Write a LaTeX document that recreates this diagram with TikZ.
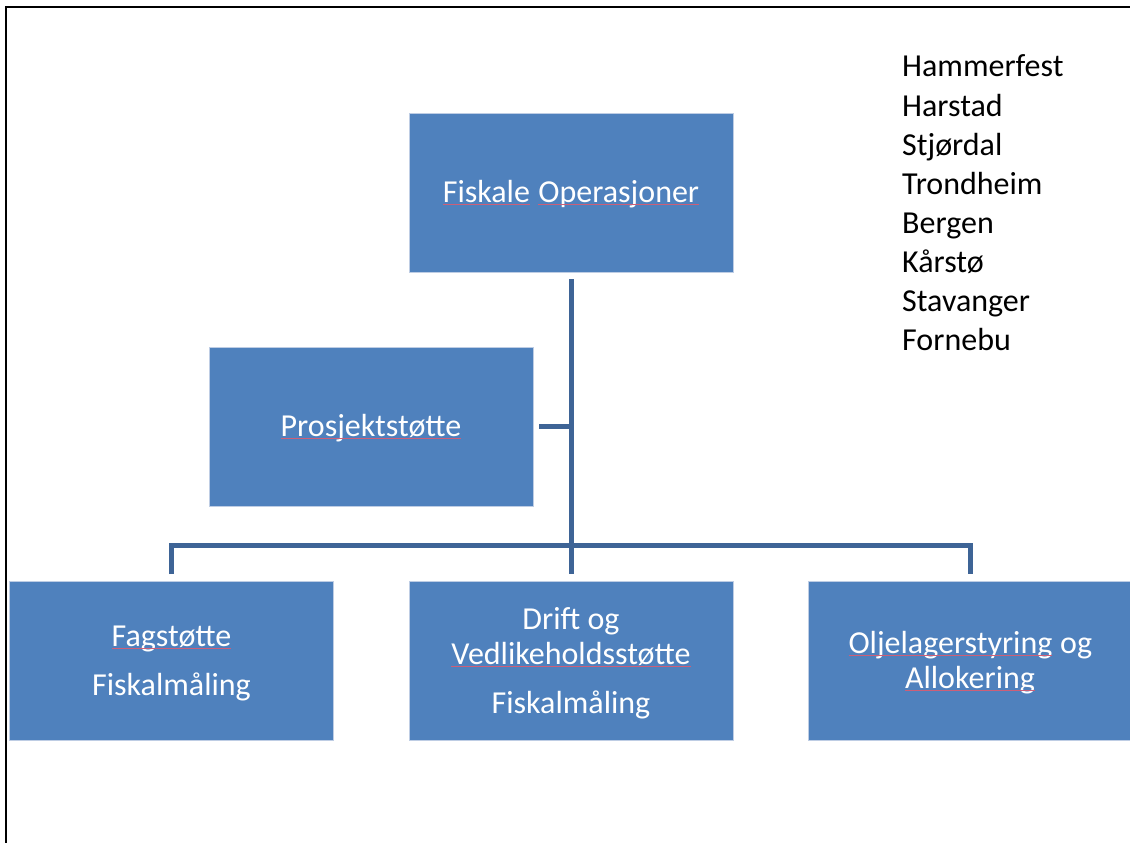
\documentclass[tikz,border=0pt]{standalone}
\usepackage{fontspec}
\setmainfont{Carlito}
\definecolor{boxblue}{RGB}{79,129,189}
\definecolor{boxedge}{RGB}{190,205,228}
\definecolor{linkblue}{RGB}{62,100,150}
\definecolor{splred}{RGB}{205,95,120}
% word with a thin red line under it, drawn as a small inline picture
\newcommand\spl[1]{\tikz[baseline=(w.base)]{%
  \node[inner sep=0pt, outer sep=0pt, anchor=base] (w) at (0,0) {#1};
  \draw[splred, line width=1.2pt] ([yshift=-2.2pt]w.base west) -- ([yshift=-2.2pt]w.base east);}}
% centred stack of lines
\newcommand\stack[1]{\begin{tabular}{@{}c@{}}#1\end{tabular}}
\tikzset{
  orgbox/.style={rectangle, fill=boxblue, draw=boxedge, line width=0.8pt,
    minimum width=324pt, minimum height=159pt, inner sep=0pt},
  boxtext/.style={text=white, inner sep=0pt, yshift=-3pt,
    font=\fontsize{32}{35}\selectfont},
  conn/.style={draw=linkblue, line width=5pt},
  city/.style={anchor=base west, inner sep=0pt, font=\fontsize{32}{39}\selectfont}
}
\begin{document}
\begin{tikzpicture}[x=1pt,y=-1pt]
\useasboundingbox (0,0) rectangle (1130,843);
\fill[white] (0,0) rectangle (1130,843);
% frame
\draw[line width=1.3pt] (6,7) -- (1131,7);
\draw[line width=2pt] (6.3,6.4) -- (6.3,844);

% boxes
\node[orgbox, label={[boxtext]center:\stack{\spl{Fiskale} \spl{Operasjoner}}}] (top) at (571,192.5) {};
\node[orgbox, label={[boxtext]center:\stack{\spl{Prosjektstøtte}}}] (proj) at (371,426.5) {};
\node[orgbox, label={[boxtext]center:\stack{\spl{Fagstøtte}\\[14pt]Fiskalmåling}}] (left) at (171.5,661) {};
\node[orgbox, label={[boxtext]center:\stack{Drift og\\\spl{Vedlikeholdsstøtte}\\[14pt]Fiskalmåling}}] (mid) at (571,661) {};
\node[orgbox, label={[boxtext]center:\stack{\spl{Oljelagerstyring} og\\\spl{Allokering}}}] (right) at (970,661) {};

% connectors
\coordinate (bus) at (571,545);
\draw[conn] ([yshift=-7pt]top.south) -- ([yshift=7pt]mid.north);
\draw[conn] ([xshift=6pt]proj.east) -- (proj.east -| top.south);
\draw[conn] ([yshift=7pt]left.north) -- (left.north |- bus) -- (right.north |- bus) -- ([yshift=7pt]right.north);

% locations
\foreach \name [count=\i from 0] in {Hammerfest,Harstad,Stjørdal,Trondheim,Bergen,Kårstø,Stavanger,Fornebu}
  \node[city] (loc\i) at (902,77+39*\i) {\name};
\end{tikzpicture}
\end{document}
